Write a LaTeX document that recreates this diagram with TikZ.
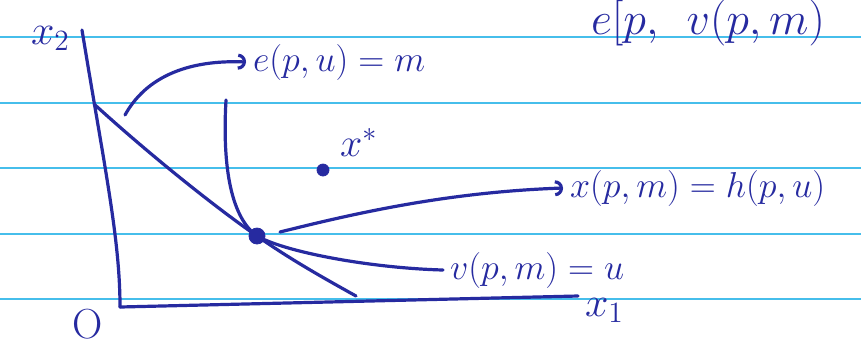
\RequirePackage{fix-cm}
\documentclass[tikz,border=0pt]{standalone}
\usepackage{amsmath,amssymb}
\usepackage{xcolor}
\usepackage{tikz}
\usetikzlibrary{arrows.meta,positioning}
\definecolor{ink}{RGB}{38,42,160}
\definecolor{ruling}{RGB}{70,190,235}

\begin{document}
\begin{tikzpicture}[x=0.5pt, y=-0.5pt, >={Arc Barb[length=4pt,width=8pt]}]
\tikzstyle{pen}=[draw=ink, line width=1.6pt, line cap=round, line join=round]
\tikzstyle{rule}=[draw=ruling, line width=1.3pt]
\tikzstyle{lab}=[text=ink, font=\fontsize{18}{22}\selectfont]
\tikzstyle{blob}=[circle, fill=ink, draw=ink, inner sep=0pt]
\fill[white] (0,0) rectangle (861,345);
\useasboundingbox (0,0) rectangle (861,345);
% ruled paper
\foreach \y in {37,103,168,234,299} \draw[rule] (0,\y) -- (861,\y);
% axes
\coordinate (x2end) at (82,30);
\coordinate (o) at (120,307);
\coordinate (x1end) at (578,296);
\draw[pen] (x2end) .. controls (105,170) and (120,240) .. (o);
\draw[pen] (o) -- (x1end);
\node[lab, font=\fontsize{21}{25}\selectfont, anchor=base west] (x2) at (24,44) {$x_2$};
\node[lab, font=\fontsize{21}{25}\selectfont, anchor=base west] (x1) at (578,316) {$x_1$};
\node[lab, font=\fontsize{21}{25}\selectfont] (orig) at (88,324) {O};
% points
\node[blob, minimum size=8pt] (tan) at (257,236) {};
\node[blob, minimum size=6pt] (xs) at (323,170) {};
\node[lab, font=\fontsize{20}{24}\selectfont, anchor=base west] (xstar) at (333,156) {$x^*$};
% labels
\node[lab, anchor=base west] (elab) at (246,71) {$e(p,u) = m$};
\node[lab, anchor=base west] (xlab) at (563,197) {$x(p,m) = h(p,u)$};
\node[lab, anchor=base west] (vlab) at (443,279) {$v(p,m) = u$};
\node[lab, font=\fontsize{23}{27}\selectfont, anchor=base west] (etop) at (584,34) {$e[p,\;\, v(p,m)$};
% budget line and indifference curve
\coordinate (bA) at (94,104);
\coordinate (bB) at (356,296);
\coordinate (ictop) at (226,100);
\draw[pen] (bA) .. controls (150,155) and (215,207) .. (tan.center) .. controls (290,259) and (320,276) .. (bB);
\draw[pen] (ictop) .. controls (222,170) and (232,218) .. (tan.center) .. controls (285,252) and (370,268) .. (vlab.west);
% arrows to labels
\coordinate (efoot) at (125,115);
\coordinate (xfoot) at (280,232);
\draw[pen,->] (efoot) .. controls (150,70) and (200,60) .. (elab.west);
\draw[pen,->] (xfoot) .. controls (360,212) and (450,192) .. (xlab.west);
\end{tikzpicture}
\end{document}
